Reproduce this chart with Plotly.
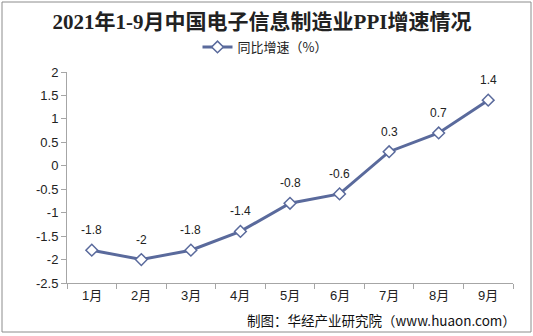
import plotly.graph_objects as go

months = ["1月", "2月", "3月", "4月", "5月", "6月", "7月", "8月", "9月"]
growth = [-1.8, -2, -1.8, -1.4, -0.8, -0.6, 0.3, 0.7, 1.4]
y_ticks = [2, 1.5, 1, 0.5, 0, -0.5, -1, -1.5, -2, -2.5]
series_name = "同比增速（%）"
title_text = "2021年1-9月中国电子信息制造业PPI增速情况"
source_text = "制图：华经产业研究院（www.huaon.com）"

W, H = 533, 336
L, R, T, B = 67, 20, 72, 53
pw, ph = W - L - R, H - T - B

line_color = "#5A6A9C"
axis_color = "#A6A6A6"
sans = "Liberation Sans, Arial, Noto Sans CJK SC, sans-serif"

fig = go.Figure()
fig.add_trace(go.Scatter(
    x=months, y=growth, name=series_name,
    mode="lines+markers",
    line=dict(color=line_color, width=3),
    marker=dict(symbol="diamond", size=9, color="white",
                line=dict(color=line_color, width=1.5)),
    cliponaxis=False,
))

# value labels above each point
for m, v in zip(months, growth):
    fig.add_annotation(x=m, y=v, text=f"{v:g}", showarrow=False,
                       yshift=20, yanchor="middle",
                       font=dict(family=sans, size=12, color="#222222"))

# outer frame around the whole chart
fig.add_shape(type="rect", xref="paper", yref="paper",
              x0=(2 - L) / pw, x1=(531 - L) / pw,
              y0=(H - 332 - B) / ph, y1=(H - 2 - B) / ph,
              line=dict(color="#8C8C8C", width=1), fillcolor="rgba(0,0,0,0)")

fig.add_annotation(text=source_text, xref="paper", yref="paper",
                   x=(518 - L) / pw, xanchor="right",
                   y=(H - 320 - B) / ph, yanchor="middle",
                   showarrow=False,
                   font=dict(family="Noto Sans CJK SC, sans-serif", size=13.5, color="#111111"))

fig.update_layout(
    width=W, height=H,
    margin=dict(l=L, r=R, t=T, b=B, pad=0),
    paper_bgcolor="white", plot_bgcolor="white",
    title=dict(text="<b>" + title_text + "</b>", x=262 / W, xref="container", xanchor="center",
               y=1 - 22 / H, yanchor="middle",
               font=dict(family="Liberation Serif, Noto Sans CJK SC, serif", size=21, color="#222222")),
    showlegend=True,
    legend=dict(orientation="h", x=(265 - L) / pw, xanchor="center",
                y=1 + (72 - 47) / ph, yanchor="middle",
                font=dict(family="Noto Sans CJK SC, sans-serif", size=13, color="#222222"),
                bgcolor="rgba(0,0,0,0)"),
    xaxis=dict(type="category", range=[-0.5, 8.5],
               showline=True, linecolor=axis_color, linewidth=1,
               ticks="outside", ticklen=5, tickcolor=axis_color,
               tickmode="array", tickvals=[i + 0.5 for i in range(-1, 9)], ticktext=[""] * 10,
               showgrid=False, zeroline=False, fixedrange=True),
    yaxis=dict(range=[-2.5, 2], tickvals=y_ticks,
               ticktext=[f"{v:g}" for v in y_ticks],
               showline=True, linecolor=axis_color, linewidth=1,
               ticks="outside", ticklen=5, tickcolor=axis_color,
               tickfont=dict(family=sans, size=13, color="#222222"),
               showgrid=False, zeroline=False),
)

# month labels below the category slots
for m in months:
    fig.add_annotation(text=m, x=m, xref="x", yref="paper",
                       y=-12 / ph, yanchor="middle", showarrow=False,
                       font=dict(family=sans, size=13, color="#222222"))

fig.write_html("out.html")
